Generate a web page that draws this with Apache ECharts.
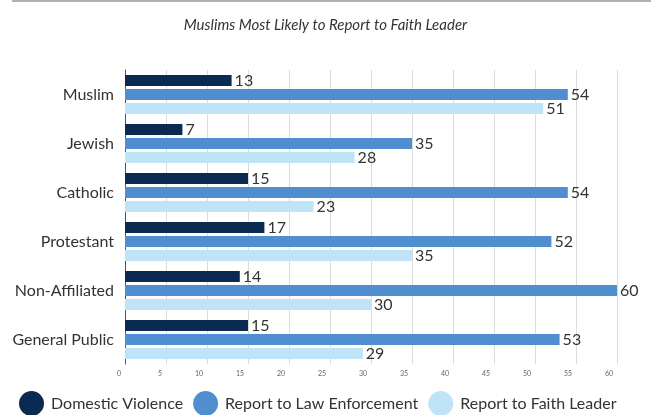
<!DOCTYPE html>
<html><head><meta charset="utf-8">
<script src="https://cdn.jsdelivr.net/npm/echarts@6/dist/echarts.min.js"></script>
<style>html,body{margin:0;padding:0;background:#fff}#c{width:651px;height:415px}#bar{position:absolute;left:12px;top:0;width:639px;height:2px;background:#b0b0b8}</style>
</head><body><div id="bar"></div><div id="c"></div>
<script>
const categories = ['Muslim','Jewish','Catholic','Protestant','Non-Affiliated','General Public'];
const domesticViolence = [13,7,15,17,14,15];
const lawEnforcement = [54,35,54,52,60,53];
const faithLeader = [51,28,23,35,30,29];
const seriesNames = ['Domestic Violence','Report to Law Enforcement','Report to Faith Leader'];
const colors = ['#0b2a52','#4f8fcf','#bfe4f8'];
const chart = echarts.init(document.getElementById('c'));
const lbl = {show:true, position:'right', fontFamily:'Lato', fontSize:16, color:'#333', distance:3};
chart.setOption({
  animation:false,
  title:{text:'Muslims Most Likely to Report to Faith Leader', left:'center', top:13,
    textStyle:{fontFamily:'Lato', fontStyle:'italic', fontWeight:'normal', fontSize:15, color:'#333'}},
  legend:{top:391, left:19, padding:0, itemWidth:25, itemHeight:25, icon:'circle', itemGap:10,
    textStyle:{fontFamily:'Lato', fontSize:16, color:'#333', padding:[0,0,0,2]}},
  grid:{left:125, right:34, top:70, bottom:51, containLabel:false},
  xAxis:{type:'value', min:0, max:60, interval:5,
    axisLine:{show:false}, axisTick:{show:false},
    splitLine:{show:true, lineStyle:{color:'#dcdcdc', width:1}},
    axisLabel:{fontFamily:'Lato', fontSize:7, color:'#666', align:'right', margin:6, padding:[0,4,0,0]}},
  yAxis:{type:'category', data:categories, inverse:true,
    axisLine:{show:true, lineStyle:{color:'#555', width:1}}, axisTick:{show:false},
    axisLabel:{fontFamily:'Lato', fontSize:16, color:'#333', margin:11}},
  series:[
    {name:seriesNames[0], type:'bar', data:domesticViolence, barWidth:11, barGap:'28%', itemStyle:{color:colors[0]}, label:lbl},
    {name:seriesNames[1], type:'bar', data:lawEnforcement, barWidth:11, barGap:'28%', itemStyle:{color:colors[1]}, label:lbl},
    {name:seriesNames[2], type:'bar', data:faithLeader, barWidth:11, barGap:'28%', itemStyle:{color:colors[2]}, label:lbl}
  ]
});
</script></body></html>
